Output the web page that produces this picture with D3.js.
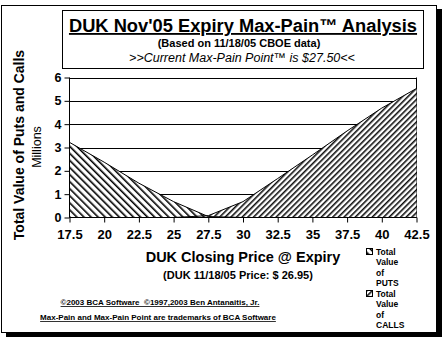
<!DOCTYPE html>
<html><head><meta charset="utf-8">
<script src="https://cdn.jsdelivr.net/npm/d3@7"></script>
<style>body{margin:0;background:#fff}svg{display:block}text{font-family:Arial,"Liberation Sans",sans-serif}</style>
</head><body>
<script>
const prices = [17.5, 20, 22.5, 25, 27.5, 30, 32.5, 35, 37.5, 40, 42.5];
const tickLabels = ["17.5","20","22.5","25","27.5","30","32.5","35","37.5","40","42.5"];
const putsValue = [3.22, 2.37, 1.47, 0.68, 0.04, 0, 0, 0, 0, 0, 0];
const callsValue = [0, 0, 0, 0, 0.08, 0.68, 1.67, 2.68, 3.71, 4.69, 5.53];
const yTicks = [0, 1, 2, 3, 4, 5, 6];

const W = 442, H = 342;
const svg = d3.select("body").append("svg").attr("width", W).attr("height", H);

const defs = svg.append("defs");
const pp = defs.append("pattern").attr("id","hatchPuts").attr("patternUnits","userSpaceOnUse")
  .attr("width",5).attr("height",5).attr("patternTransform","rotate(-45)");
pp.append("rect").attr("width",5).attr("height",5).attr("fill","#fff");
pp.append("line").attr("x1",0.8).attr("y1",0).attr("x2",0.8).attr("y2",5).attr("stroke","#000").attr("stroke-width",1.6);
const pc = defs.append("pattern").attr("id","hatchCalls").attr("patternUnits","userSpaceOnUse")
  .attr("width",4).attr("height",4).attr("patternTransform","rotate(45)");
pc.append("rect").attr("width",4).attr("height",4).attr("fill","#fff");
pc.append("line").attr("x1",0.8).attr("y1",0).attr("x2",0.8).attr("y2",4).attr("stroke","#000").attr("stroke-width",1.5);

// frame with shadow
svg.append("rect").attr("x",6).attr("y",9).attr("width",436).attr("height",328).attr("fill","#000");
svg.append("rect").attr("x",1.5).attr("y",5.5).attr("width",435).attr("height",327).attr("fill","#fff").attr("stroke","#000").attr("stroke-width",1);

// title box
svg.append("rect").attr("x",62.5).attr("y",10.5).attr("width",361).attr("height",58).attr("fill","#fff").attr("stroke","#000").attr("stroke-width",1);
svg.append("text").attr("x",243).attr("y",32).attr("text-anchor","middle").attr("font-size",18.3).attr("font-weight","bold")
  .attr("text-decoration","underline").text("DUK Nov'05 Expiry Max-Pain\u2122 Analysis");
svg.append("text").attr("x",239).attr("y",46.5).attr("text-anchor","middle").attr("font-size",11).attr("font-weight","bold")
  .text("(Based on 11/18/05 CBOE data)");
svg.append("text").attr("x",242).attr("y",61.5).attr("text-anchor","middle").attr("font-size",12.5).attr("font-style","italic")
  .text(">>Current Max-Pain Point\u2122 is $27.50<<");

const x = d3.scalePoint().domain(prices).range([69.5, 416.5]);
const y = d3.scaleLinear().domain([0, 6]).range([217.5, 77.5]);

const plot = svg.append("g");
// gridlines
plot.selectAll("line.grid").data(yTicks.filter(d=>d>0)).join("line")
  .attr("x1",69.5).attr("x2",416.5).attr("y1",d=>Math.round(y(d))+0.5).attr("y2",d=>Math.round(y(d))+0.5)
  .attr("stroke","#000").attr("stroke-width",1);
plot.append("line").attr("x1",416.5).attr("x2",416.5).attr("y1",77.5).attr("y2",217.5).attr("stroke","#000");

const area = (vals) => d3.area().x((d,i)=>x(prices[i])).y0(y(0)).y1(d=>y(d))(vals);
const line = (vals) => d3.line().x((d,i)=>x(prices[i])).y(d=>y(d))(vals);
plot.append("path").attr("d",area(callsValue)).attr("fill","url(#hatchCalls)");
plot.append("path").attr("d",area(putsValue)).attr("fill","url(#hatchPuts)");
plot.append("path").attr("d",line(callsValue)).attr("fill","none").attr("stroke","#000").attr("stroke-width",1);
plot.append("path").attr("d",line(putsValue)).attr("fill","none").attr("stroke","#000").attr("stroke-width",1);

// axes
const yAxis = d3.axisLeft(y).tickValues(yTicks).tickSize(5).tickPadding(3).tickFormat(d3.format("d"));
const gy = svg.append("g").attr("transform","translate(69.5,0)").call(yAxis);
gy.selectAll("text").attr("font-size",12.5).attr("font-weight","bold").attr("fill","#000").attr("font-family","Arial,'Liberation Sans',sans-serif");
gy.selectAll("line,path").attr("stroke","#000");
gy.select(".domain").attr("d","M0,77.5V217.5");

const xAxis = d3.axisBottom(x).tickSize(5).tickPadding(7).tickFormat((d,i)=>tickLabels[i]);
const gx = svg.append("g").attr("transform","translate(0,217.5)").call(xAxis);
gx.selectAll("text").attr("font-size",13).attr("font-weight","bold").attr("fill","#000").attr("font-family","Arial,'Liberation Sans',sans-serif");
gx.selectAll("line,path").attr("stroke","#000");
gx.select(".domain").attr("d","M69.5,0H416.5");

// axis titles
svg.append("text").attr("transform","translate(24,145) rotate(-90)").attr("text-anchor","middle")
  .attr("font-size",14).attr("font-weight","bold").text("Total Value of Puts and Calls");
svg.append("text").attr("transform","translate(41,147) rotate(-90)").attr("text-anchor","middle")
  .attr("font-size",12.5).text("Millions");
svg.append("text").attr("x",243).attr("y",262).attr("text-anchor","middle").attr("font-size",14.5).attr("font-weight","bold")
  .text("DUK Closing Price @ Expiry");
svg.append("text").attr("x",238).attr("y",279).attr("text-anchor","middle").attr("font-size",11).attr("font-weight","bold")
  .text("(DUK 11/18/05 Price: $ 26.95)");
svg.append("text").attr("x",160).attr("y",305).attr("text-anchor","middle").attr("font-size",8).attr("font-weight","bold")
  .attr("text-decoration","underline").text("\u00a92003 BCA Software \u00a0\u00a91997,2003 Ben Antanaitis, Jr.");
svg.append("text").attr("x",158).attr("y",320).attr("text-anchor","middle").attr("font-size",8).attr("font-weight","bold")
  .attr("text-decoration","underline").text("Max-Pain and Max-Pain Point are trademarks of BCA Software");

// legend
const legend = [{fill:"url(#hatchPuts)", lines:["Total","Value","of","PUTS"], y:248},
                {fill:"url(#hatchCalls)", lines:["Total","Value","of","CALLS"], y:290}];
legend.forEach(l=>{
  svg.append("rect").attr("x",366.5).attr("y",l.y+0.5).attr("width",6).attr("height",6).attr("fill",l.fill).attr("stroke","#000").attr("stroke-width",1);
  const t = svg.append("text").attr("x",376).attr("y",l.y+7).attr("font-size",8.5).attr("font-weight","bold");
  l.lines.forEach((s,i)=>t.append("tspan").attr("x",376).attr("dy",i?10.3:0).text(s));
});
</script>
</body></html>
